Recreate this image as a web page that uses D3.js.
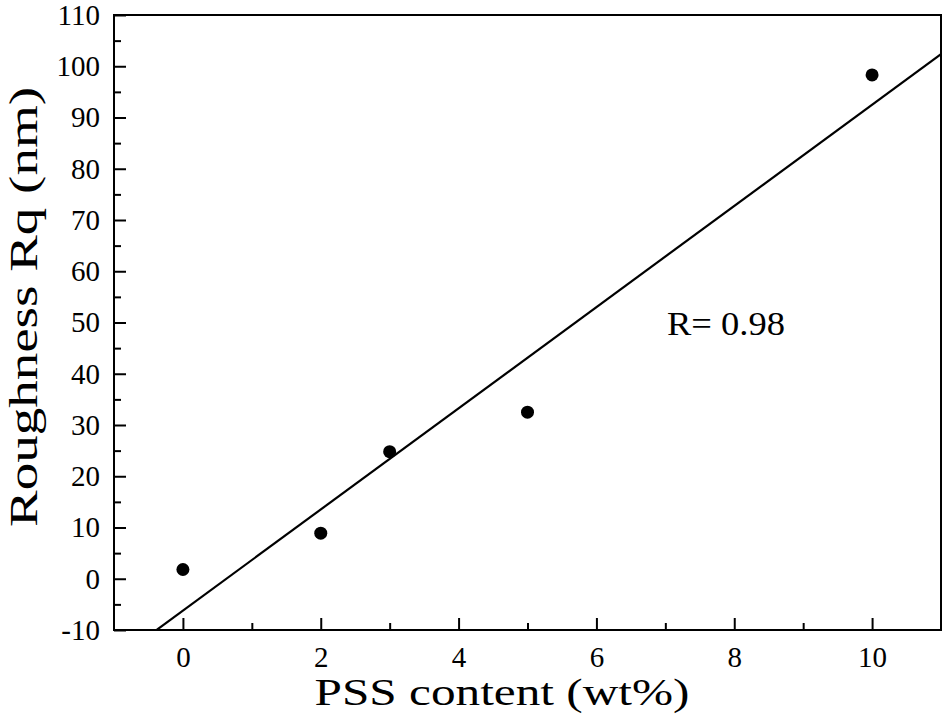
<!DOCTYPE html>
<html>
<head>
  <script src="https://cdnjs.cloudflare.com/ajax/libs/d3/7.8.5/d3.min.js"></script>
  <style>
    body { margin: 0; background: #fff; }
  </style>
</head>
<body>
  <script>
    // data
    var pssContent = [0, 2, 3, 5, 10];
    var roughness = [1.8, 8.9, 24.8, 32.5, 98.3];
    var xTicks = [0, 2, 4, 6, 8, 10];
    var xMinorTicks = [1, 3, 5, 7, 9];
    var yTicks = [-10, 0, 10, 20, 30, 40, 50, 60, 70, 80, 90, 100, 110];
    var yMinorTicks = [-5, 5, 15, 25, 35, 45, 55, 65, 75, 85, 95, 105];
    var rLabel = "R= 0.98";

    var width = 943, height = 727;
    var margin = {left: 114, top: 15, right: 2, bottom: 97};

    var svg = d3.select("body")
      .append("svg")
      .attr("width", width)
      .attr("height", height);

    var x = d3.scaleLinear().domain([-1, 11]).range([margin.left, width - margin.right]);
    var y = d3.scaleLinear().domain([-10, 110]).range([height - margin.bottom, margin.top]);

    var points = pssContent.map(function(v, i) { return {x: v, y: roughness[i]}; });

    // least squares fit
    var mx = d3.mean(pssContent), my = d3.mean(roughness);
    var sxy = d3.sum(points, function(d) { return (d.x - mx) * (d.y - my); });
    var sxx = d3.sum(points, function(d) { return (d.x - mx) * (d.x - mx); });
    var slope = sxy / sxx, icpt = my - slope * mx;

    svg.append("clipPath").attr("id", "clip")
      .append("rect")
      .attr("x", x(-1)).attr("y", y(110))
      .attr("width", x(11) - x(-1)).attr("height", y(-10) - y(110));

    var fitX = [-1, 11];
    svg.append("path")
      .attr("clip-path", "url(#clip)")
      .attr("d", d3.line()
        .x(function(d) { return x(d); })
        .y(function(d) { return y(slope * d + icpt); })(fitX))
      .attr("fill", "none")
      .attr("stroke", "#000")
      .attr("stroke-width", 2.2);

    svg.selectAll("circle.pt")
      .data(points)
      .enter().append("circle")
      .attr("class", "pt")
      .attr("cx", function(d) { return x(d.x); })
      .attr("cy", function(d) { return y(d.y); })
      .attr("r", 6.5)
      .attr("fill", "#000");

    // frame
    svg.append("rect")
      .attr("x", x(-1)).attr("y", y(110))
      .attr("width", x(11) - x(-1)).attr("height", y(-10) - y(110))
      .attr("fill", "none")
      .attr("stroke", "#000")
      .attr("stroke-width", 2);

    svg.append("g")
      .attr("transform", "translate(0," + y(-10) + ")")
      .call(d3.axisBottom(x).tickValues(xTicks).tickSize(-12).tickPadding(16).tickFormat(d3.format("d")));
    svg.append("g")
      .attr("transform", "translate(0," + y(-10) + ")")
      .call(d3.axisBottom(x).tickValues(xMinorTicks).tickSize(-7).tickFormat(""));

    svg.append("g")
      .attr("transform", "translate(" + x(-1) + ",0)")
      .call(d3.axisLeft(y).tickValues(yTicks).tickSize(-12).tickPadding(14).tickFormat(function(d) { return d < 0 ? "-" + Math.abs(d) : d; }));
    svg.append("g")
      .attr("transform", "translate(" + x(-1) + ",0)")
      .call(d3.axisLeft(y).tickValues(yMinorTicks).tickSize(-7).tickFormat(""));

    svg.selectAll(".domain").remove();
    svg.selectAll(".tick line").attr("stroke", "#000").attr("stroke-width", 2);

    svg.append("text")
      .attr("x", 502)
      .attr("y", 705)
      .attr("text-anchor", "middle")
      .style("font-size", "38px")
      .attr("textLength", 375)
      .attr("lengthAdjust", "spacingAndGlyphs")
      .text("PSS content (wt%)");

    svg.append("text")
      .attr("transform", "translate(37,307) rotate(-90)")
      .attr("text-anchor", "middle")
      .style("font-size", "41px")
      .attr("textLength", 440)
      .attr("lengthAdjust", "spacingAndGlyphs")
      .text("Roughness Rq (nm)");

    svg.append("text")
      .attr("x", 667)
      .attr("y", 335)
      .style("font-size", "33px")
      .attr("textLength", 118)
      .attr("lengthAdjust", "spacingAndGlyphs")
      .text(rLabel);

    svg.selectAll(".tick text").style("font-size", "29px");
    svg.selectAll("text")
      .style("font-family", "Liberation Serif")
      .attr("fill", "#000");
  </script>
</body>
</html>
